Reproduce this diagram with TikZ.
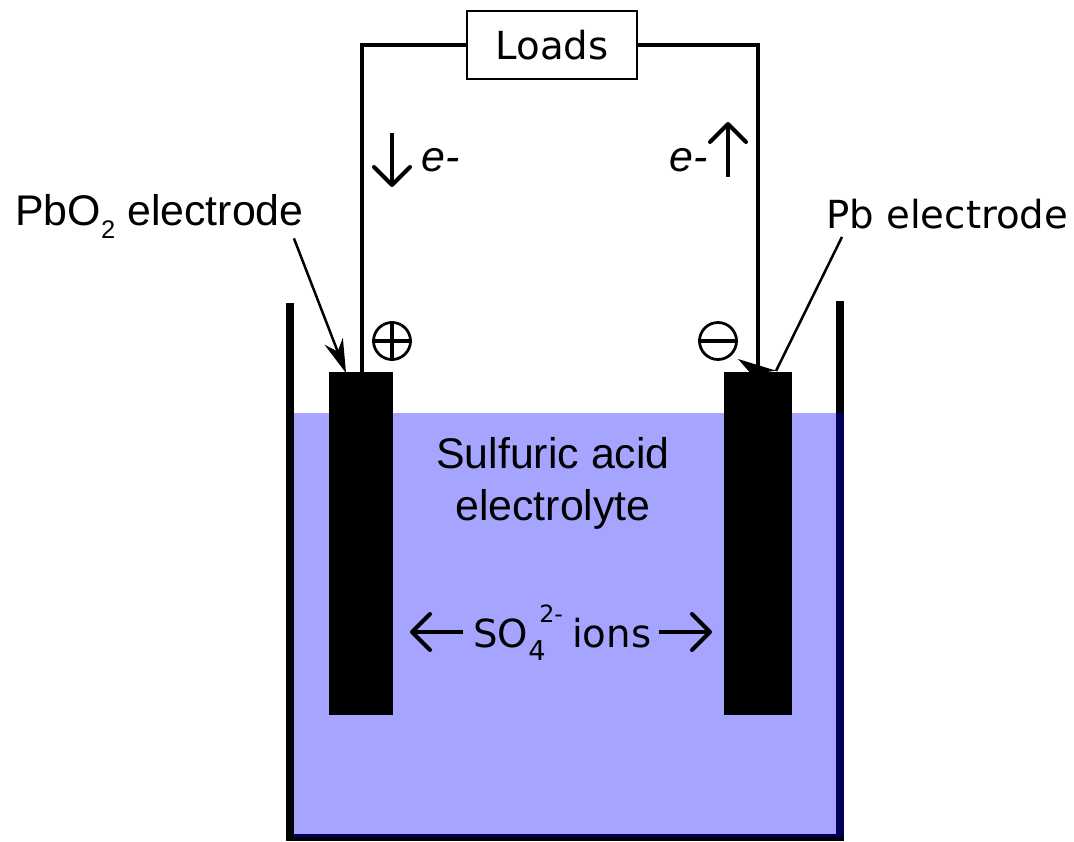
\documentclass[tikz,border=0pt]{standalone}
\usepackage{fontspec}
\setmainfont{DejaVu Sans}
\newfontfamily\libsans{Liberation Sans}
\usetikzlibrary{arrows.meta}
\definecolor{acidblue}{HTML}{A5A5FF}
\definecolor{wallnavy}{HTML}{00005A}
\tikzset{
  wire/.style={line width=0.07cm},
  wall/.style={line width=0.16cm},
  plate/.style={fill=black,inner sep=0pt,minimum height=6.86cm},
  lbl/.style={inner sep=0pt,font=\fontsize{22}{26}\selectfont},
  liblbl/.style={inner sep=0pt,font=\libsans\fontsize{24.4}{29.6}\selectfont},
  leader/.style={line width=0.05cm,-{Stealth[length=0.68cm,width=0.39cm,inset=0.22cm]}},
  flow/.style={line width=0.08cm,-{Straight Barb[round,length=0.36cm,width=0.72cm]}},
  sign/.style={circle,draw,line width=0.055cm,inner sep=0pt,minimum size=0.74cm},
}
\begin{document}
\begin{tikzpicture}[x=0.02cm,y=-0.02cm]
  \useasboundingbox (0,0) rectangle (1074,841);
  % acid
  \fill[acidblue] (294,413) rectangle (836,836);
  \fill[wallnavy] (836,413) rectangle (844,836);
  \fill[wallnavy] (294,834) rectangle (844,837);
  % beaker
  \draw[wall,line cap=butt] (290,303) -- (290,841);
  \draw[wall,line cap=butt] (840,301) -- (840,413);
  \fill (286,837) rectangle (844,841);
  % labels
  \node (loadbox) [draw,line width=0.04cm,minimum width=3.4cm,minimum height=1.36cm,lbl] at (552,45) {Loads};
  \node (pbolabel) [liblbl,anchor=base west] at (15,225) {PbO\raisebox{-7.4pt}{\fontsize{14.5}{16}\selectfont 2} electrode};
  \node (pblabel) [lbl,anchor=base west] at (826,228) {Pb electrode};
  \node (acidlabel) [liblbl,align=center] at (553,483) {Sulfuric acid\\electrolyte};
  \node (ionlabel) [lbl,anchor=base west] at (473,647) {SO\rlap{\raisebox{-7.4pt}{\fontsize{15.5}{17}\selectfont 4}}\rlap{\hspace{6.3pt}\raisebox{14pt}{\fontsize{13.5}{15}\selectfont 2-}}\hspace{25pt}ions};
  % leaders
  \coordinate (postip) at (346,373);
  \coordinate (negbend) at (776,371);
  \coordinate (negtail) at (772,381);
  \coordinate (negtip) at (738,359);
  \draw[leader] ([xshift=-0.2cm]pbolabel.south east) -- (postip);
  \draw[line width=0.05cm] ([shift={(0.32cm,-0.16cm)}]pblabel.south west) -- (negbend);
  \draw[line width=0.05cm,-{Stealth[length=0.76cm,width=0.43cm,inset=0.24cm]}] (negtail) -- (negtip);
  % electrodes
  \node (posplate) [plate,minimum width=1.28cm] at (361,543.5) {};
  \node (negplate) [plate,minimum width=1.36cm] at (758,543.5) {};
  % external circuit
  \draw[wire] (posplate.north) ++(1,0) |- (loadbox.west);
  \draw[wire] (negplate.north) |- (loadbox.east);
  % electron flow
  \coordinate (ldown) at (392,133);
  \coordinate (ldownend) at (392,187);
  \coordinate (rup) at (728,177);
  \coordinate (rupend) at (728,122);
  \draw[flow] (ldown) -- (ldownend);
  \draw[flow] (rup) -- (rupend);
  \node (eleft) [liblbl,font=\libsans\fontsize{24.4}{29.6}\selectfont\itshape,anchor=base west] at (421,172) {e-};
  \node (eright) [liblbl,font=\libsans\fontsize{24.4}{29.6}\selectfont\itshape,anchor=base west] at (669,172) {e-};
  % ion flow
  \coordinate (ionl) at (463,632);
  \coordinate (ionlend) at (410,632);
  \coordinate (ionr) at (659,632);
  \coordinate (ionrend) at (712,632);
  \draw[flow] (ionl) -- (ionlend);
  \draw[flow] (ionr) -- (ionrend);
  % signs
  \node (plus) [sign] at (392,341) {};
  \draw[line width=0.07cm] (plus.north) -- (plus.south);
  \draw[line width=0.07cm] (plus.west) -- (plus.east);
  \node (minus) [sign] at (718,341) {};
  \draw[line width=0.08cm] (minus.west) -- (minus.east);
\end{tikzpicture}
\end{document}
